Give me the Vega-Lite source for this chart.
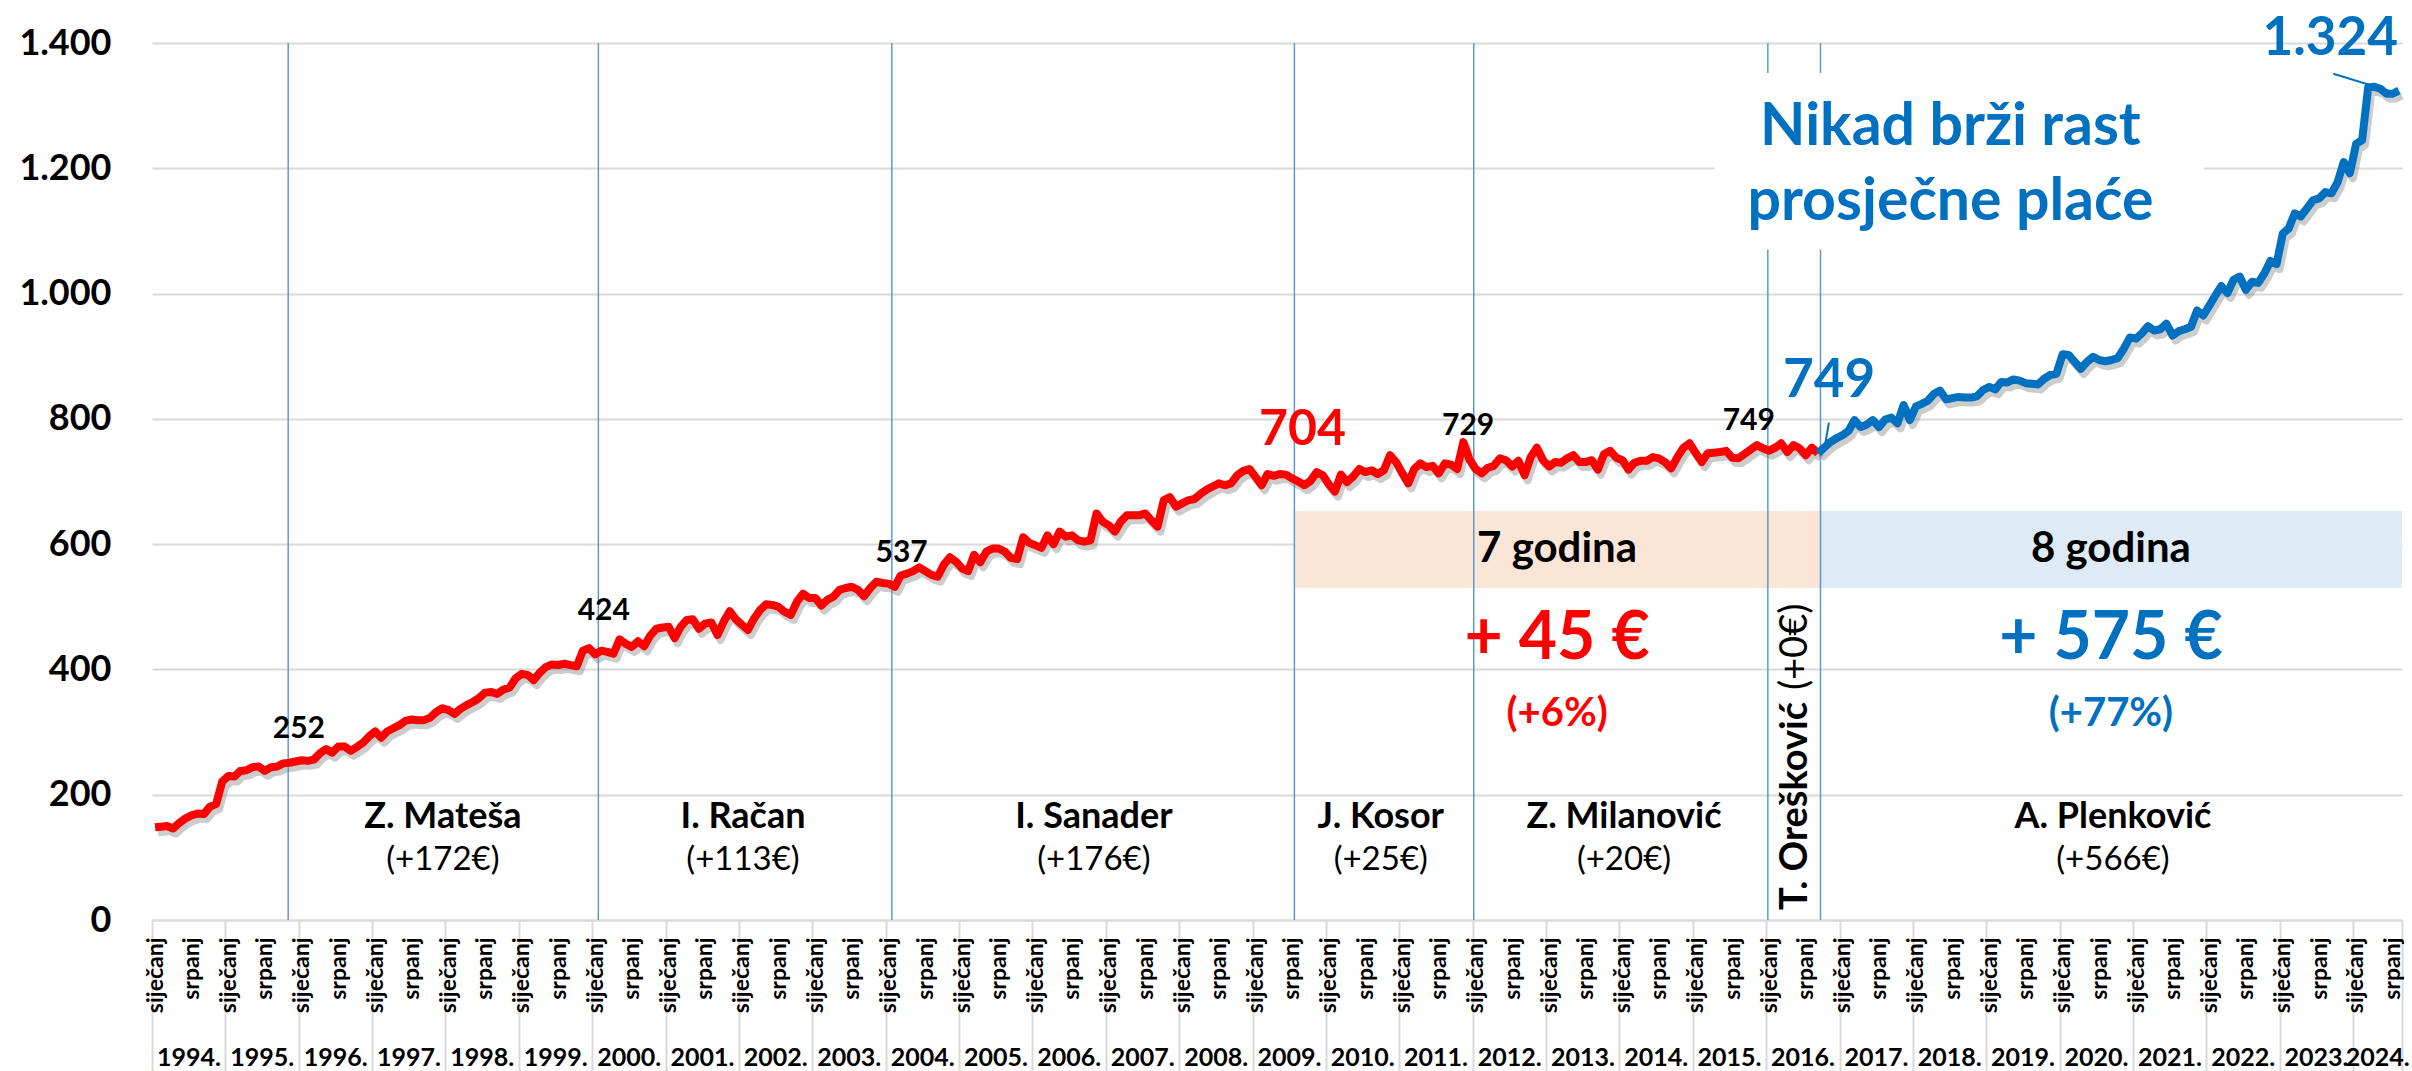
{
"$schema":"https://vega.github.io/schema/vega-lite/v6.json",
"width":2250,"height":877,
"autosize":{"type":"none"},
"padding":{"left":152,"top":43,"right":10,"bottom":151},
"background":"white",
"config":{"view":{"stroke":null},"font":"Lato","text":{"font":"Lato"},"axis":{"labelFont":"Lato"}},
"datasets":{
"crvena":[
{"d":"1994-01","v":148},{"d":"1994-02","v":149},{"d":"1994-03","v":150},{"d":"1994-04","v":146},{"d":"1994-05","v":155},{"d":"1994-06","v":162},{"d":"1994-07","v":167},{"d":"1994-08","v":170},{"d":"1994-09","v":169},{"d":"1994-10","v":181},{"d":"1994-11","v":185},{"d":"1994-12","v":221},
{"d":"1995-01","v":230},{"d":"1995-02","v":229},{"d":"1995-03","v":238},{"d":"1995-04","v":239},{"d":"1995-05","v":244},{"d":"1995-06","v":245},{"d":"1995-07","v":238},{"d":"1995-08","v":244},{"d":"1995-09","v":245},{"d":"1995-10","v":250},{"d":"1995-11","v":251},{"d":"1995-12","v":253},
{"d":"1996-01","v":255},{"d":"1996-02","v":254},{"d":"1996-03","v":256},{"d":"1996-04","v":266},{"d":"1996-05","v":273},{"d":"1996-06","v":267},{"d":"1996-07","v":277},{"d":"1996-08","v":277},{"d":"1996-09","v":270},{"d":"1996-10","v":276},{"d":"1996-11","v":283},{"d":"1996-12","v":293},
{"d":"1997-01","v":301},{"d":"1997-02","v":291},{"d":"1997-03","v":301},{"d":"1997-04","v":306},{"d":"1997-05","v":311},{"d":"1997-06","v":318},{"d":"1997-07","v":320},{"d":"1997-08","v":319},{"d":"1997-09","v":319},{"d":"1997-10","v":323},{"d":"1997-11","v":332},{"d":"1997-12","v":338},
{"d":"1998-01","v":335},{"d":"1998-02","v":329},{"d":"1998-03","v":337},{"d":"1998-04","v":343},{"d":"1998-05","v":348},{"d":"1998-06","v":354},{"d":"1998-07","v":363},{"d":"1998-08","v":364},{"d":"1998-09","v":361},{"d":"1998-10","v":368},{"d":"1998-11","v":371},{"d":"1998-12","v":386},
{"d":"1999-01","v":393},{"d":"1999-02","v":391},{"d":"1999-03","v":383},{"d":"1999-04","v":395},{"d":"1999-05","v":404},{"d":"1999-06","v":408},{"d":"1999-07","v":407},{"d":"1999-08","v":409},{"d":"1999-09","v":407},{"d":"1999-10","v":405},{"d":"1999-11","v":430},{"d":"1999-12","v":434},
{"d":"2000-01","v":424},{"d":"2000-02","v":430},{"d":"2000-03","v":428},{"d":"2000-04","v":425},{"d":"2000-05","v":448},{"d":"2000-06","v":441},{"d":"2000-07","v":436},{"d":"2000-08","v":445},{"d":"2000-09","v":437},{"d":"2000-10","v":454},{"d":"2000-11","v":465},{"d":"2000-12","v":467},
{"d":"2001-01","v":468},{"d":"2001-02","v":450},{"d":"2001-03","v":468},{"d":"2001-04","v":479},{"d":"2001-05","v":480},{"d":"2001-06","v":465},{"d":"2001-07","v":473},{"d":"2001-08","v":475},{"d":"2001-09","v":455},{"d":"2001-10","v":476},{"d":"2001-11","v":493},{"d":"2001-12","v":480},
{"d":"2002-01","v":471},{"d":"2002-02","v":463},{"d":"2002-03","v":481},{"d":"2002-04","v":495},{"d":"2002-05","v":504},{"d":"2002-06","v":503},{"d":"2002-07","v":500},{"d":"2002-08","v":492},{"d":"2002-09","v":487},{"d":"2002-10","v":508},{"d":"2002-11","v":521},{"d":"2002-12","v":514},
{"d":"2003-01","v":514},{"d":"2003-02","v":502},{"d":"2003-03","v":511},{"d":"2003-04","v":516},{"d":"2003-05","v":527},{"d":"2003-06","v":530},{"d":"2003-07","v":532},{"d":"2003-08","v":527},{"d":"2003-09","v":517},{"d":"2003-10","v":530},{"d":"2003-11","v":540},{"d":"2003-12","v":538},
{"d":"2004-01","v":537},{"d":"2004-02","v":532},{"d":"2004-03","v":550},{"d":"2004-04","v":553},{"d":"2004-05","v":557},{"d":"2004-06","v":563},{"d":"2004-07","v":557},{"d":"2004-08","v":551},{"d":"2004-09","v":548},{"d":"2004-10","v":567},{"d":"2004-11","v":579},{"d":"2004-12","v":572},
{"d":"2005-01","v":561},{"d":"2005-02","v":557},{"d":"2005-03","v":583},{"d":"2005-04","v":571},{"d":"2005-05","v":588},{"d":"2005-06","v":593},{"d":"2005-07","v":593},{"d":"2005-08","v":588},{"d":"2005-09","v":578},{"d":"2005-10","v":576},{"d":"2005-11","v":611},{"d":"2005-12","v":602},
{"d":"2006-01","v":598},{"d":"2006-02","v":594},{"d":"2006-03","v":614},{"d":"2006-04","v":600},{"d":"2006-05","v":620},{"d":"2006-06","v":612},{"d":"2006-07","v":614},{"d":"2006-08","v":606},{"d":"2006-09","v":604},{"d":"2006-10","v":606},{"d":"2006-11","v":649},{"d":"2006-12","v":636},
{"d":"2007-01","v":630},{"d":"2007-02","v":620},{"d":"2007-03","v":636},{"d":"2007-04","v":646},{"d":"2007-05","v":646},{"d":"2007-06","v":646},{"d":"2007-07","v":649},{"d":"2007-08","v":638},{"d":"2007-09","v":628},{"d":"2007-10","v":670},{"d":"2007-11","v":675},{"d":"2007-12","v":660},
{"d":"2008-01","v":665},{"d":"2008-02","v":670},{"d":"2008-03","v":672},{"d":"2008-04","v":680},{"d":"2008-05","v":687},{"d":"2008-06","v":692},{"d":"2008-07","v":697},{"d":"2008-08","v":694},{"d":"2008-09","v":697},{"d":"2008-10","v":710},{"d":"2008-11","v":717},{"d":"2008-12","v":720},
{"d":"2009-01","v":707},{"d":"2009-02","v":694},{"d":"2009-03","v":712},{"d":"2009-04","v":709},{"d":"2009-05","v":712},{"d":"2009-06","v":711},{"d":"2009-07","v":705},{"d":"2009-08","v":700},{"d":"2009-09","v":694},{"d":"2009-10","v":701},{"d":"2009-11","v":715},{"d":"2009-12","v":710},
{"d":"2010-01","v":695},{"d":"2010-02","v":684},{"d":"2010-03","v":711},{"d":"2010-04","v":699},{"d":"2010-05","v":708},{"d":"2010-06","v":720},{"d":"2010-07","v":715},{"d":"2010-08","v":718},{"d":"2010-09","v":712},{"d":"2010-10","v":718},{"d":"2010-11","v":742},{"d":"2010-12","v":731},
{"d":"2011-01","v":713},{"d":"2011-02","v":697},{"d":"2011-03","v":720},{"d":"2011-04","v":729},{"d":"2011-05","v":723},{"d":"2011-06","v":725},{"d":"2011-07","v":713},{"d":"2011-08","v":729},{"d":"2011-09","v":727},{"d":"2011-10","v":720},{"d":"2011-11","v":763},{"d":"2011-12","v":735},
{"d":"2012-01","v":720},{"d":"2012-02","v":713},{"d":"2012-03","v":722},{"d":"2012-04","v":725},{"d":"2012-05","v":737},{"d":"2012-06","v":734},{"d":"2012-07","v":724},{"d":"2012-08","v":733},{"d":"2012-09","v":710},{"d":"2012-10","v":739},{"d":"2012-11","v":754},{"d":"2012-12","v":734},
{"d":"2013-01","v":724},{"d":"2013-02","v":731},{"d":"2013-03","v":730},{"d":"2013-04","v":737},{"d":"2013-05","v":742},{"d":"2013-06","v":731},{"d":"2013-07","v":731},{"d":"2013-08","v":734},{"d":"2013-09","v":719},{"d":"2013-10","v":744},{"d":"2013-11","v":749},{"d":"2013-12","v":738},
{"d":"2014-01","v":734},{"d":"2014-02","v":719},{"d":"2014-03","v":730},{"d":"2014-04","v":733},{"d":"2014-05","v":733},{"d":"2014-06","v":739},{"d":"2014-07","v":737},{"d":"2014-08","v":731},{"d":"2014-09","v":721},{"d":"2014-10","v":739},{"d":"2014-11","v":754},{"d":"2014-12","v":761},
{"d":"2015-01","v":745},{"d":"2015-02","v":731},{"d":"2015-03","v":745},{"d":"2015-04","v":746},{"d":"2015-05","v":747},{"d":"2015-06","v":749},{"d":"2015-07","v":738},{"d":"2015-08","v":737},{"d":"2015-09","v":744},{"d":"2015-10","v":751},{"d":"2015-11","v":758},{"d":"2015-12","v":753},
{"d":"2016-01","v":749},{"d":"2016-02","v":754},{"d":"2016-03","v":761},{"d":"2016-04","v":747},{"d":"2016-05","v":758},{"d":"2016-06","v":753},{"d":"2016-07","v":742},{"d":"2016-08","v":754},{"d":"2016-09","v":745}
],
"plava":[
{"d":"2016-09","v":745},{"d":"2016-10","v":754},{"d":"2016-11","v":763},{"d":"2016-12","v":769},
{"d":"2017-01","v":774},{"d":"2017-02","v":781},{"d":"2017-03","v":798},{"d":"2017-04","v":787},{"d":"2017-05","v":791},{"d":"2017-06","v":798},{"d":"2017-07","v":787},{"d":"2017-08","v":799},{"d":"2017-09","v":802},{"d":"2017-10","v":793},{"d":"2017-11","v":822},{"d":"2017-12","v":798},
{"d":"2018-01","v":820},{"d":"2018-02","v":824},{"d":"2018-03","v":829},{"d":"2018-04","v":840},{"d":"2018-05","v":845},{"d":"2018-06","v":831},{"d":"2018-07","v":833},{"d":"2018-08","v":835},{"d":"2018-09","v":834},{"d":"2018-10","v":834},{"d":"2018-11","v":836},{"d":"2018-12","v":846},
{"d":"2019-01","v":851},{"d":"2019-02","v":847},{"d":"2019-03","v":859},{"d":"2019-04","v":858},{"d":"2019-05","v":863},{"d":"2019-06","v":861},{"d":"2019-07","v":857},{"d":"2019-08","v":856},{"d":"2019-09","v":855},{"d":"2019-10","v":864},{"d":"2019-11","v":870},{"d":"2019-12","v":872},
{"d":"2020-01","v":903},{"d":"2020-02","v":902},{"d":"2020-03","v":891},{"d":"2020-04","v":880},{"d":"2020-05","v":891},{"d":"2020-06","v":899},{"d":"2020-07","v":894},{"d":"2020-08","v":892},{"d":"2020-09","v":894},{"d":"2020-10","v":897},{"d":"2020-11","v":912},{"d":"2020-12","v":930},
{"d":"2021-01","v":928},{"d":"2021-02","v":937},{"d":"2021-03","v":948},{"d":"2021-04","v":941},{"d":"2021-05","v":943},{"d":"2021-06","v":952},{"d":"2021-07","v":933},{"d":"2021-08","v":940},{"d":"2021-09","v":943},{"d":"2021-10","v":947},{"d":"2021-11","v":973},{"d":"2021-12","v":965},
{"d":"2022-01","v":981},{"d":"2022-02","v":997},{"d":"2022-03","v":1012},{"d":"2022-04","v":1001},{"d":"2022-05","v":1022},{"d":"2022-06","v":1027},{"d":"2022-07","v":1006},{"d":"2022-08","v":1019},{"d":"2022-09","v":1017},{"d":"2022-10","v":1032},{"d":"2022-11","v":1052},{"d":"2022-12","v":1047},
{"d":"2023-01","v":1096},{"d":"2023-02","v":1104},{"d":"2023-03","v":1128},{"d":"2023-04","v":1123},{"d":"2023-05","v":1136},{"d":"2023-06","v":1149},{"d":"2023-07","v":1152},{"d":"2023-08","v":1162},{"d":"2023-09","v":1160},{"d":"2023-10","v":1178},{"d":"2023-11","v":1210},{"d":"2023-12","v":1192},
{"d":"2024-01","v":1239},{"d":"2024-02","v":1245},{"d":"2024-03","v":1329},{"d":"2024-04","v":1330},{"d":"2024-05","v":1327},{"d":"2024-06","v":1319},{"d":"2024-07","v":1319},{"d":"2024-08","v":1324}
],
"vlade":[
{"d":"1995-11-10","ime":"Z. Mateša","razlika":"(+172€)","sredina":"1997-12-19"},
{"d":"2000-02-01","ime":"I. Račan","razlika":"(+113€)","sredina":"2002-01-21"},
{"d":"2004-02-01","ime":"I. Sanader","razlika":"(+176€)","sredina":"2006-11-03"},
{"d":"2009-07-28","ime":"J. Kosor","razlika":"(+25€)","sredina":"2010-10-01"},
{"d":"2012-01-07","ime":"Z. Milanović","razlika":"(+20€)","sredina":"2014-01-24"},
{"d":"2016-01-10","ime":"T. Orešković","razlika":"(+0€)","sredina":"2016-05-28"},
{"d":"2016-09-28","ime":"A. Plenković","razlika":"(+566€)","sredina":"2020-09-23"}
],
"razdoblja":[
{"od":"2009-07-28","do":"2016-09-28","lo":530,"hi":653,"k":"7 godina","sredina":"2013-02-25","iznos":"+ 45 €","posto":"(+6%)"},
{"od":"2016-09-28","do":"2024-09-01","lo":530,"hi":653,"k":"8 godina","sredina":"2020-09-13","iznos":"+ 575 €","posto":"(+77%)"}
],
"oznake":[
{"d":"1996-01-02","v":305,"t":"252"},
{"d":"2000-02-28","v":493,"t":"424"},
{"d":"2004-03-21","v":586,"t":"537"},
{"d":"2011-12-10","v":788,"t":"729"},
{"d":"2015-10-07","v":796,"t":"749"}
],
"plaveOznake":[
{"d":"2016-11-10","v":860,"t":"749"},
{"d":"2023-09-10","v":1407,"t":"1.324"}
],
"spojnice":[
{"a":"2023-09-25","va":1351,"b":"2024-07-16","vb":1322},
{"a":"2016-10-19","va":755,"b":"2016-11-09","vb":794}
],
"naslov":[
{"d":"2018-07-07","v":1237,"t":"Nikad brži rast"},
{"d":"2018-07-07","v":1117,"t":"prosječne plaće"}
],
"okvir":[{"a":"2015-04-19","b":"2021-12-19","lo":1070,"hi":1352}]
},
"resolve":{"axis":{"x":"independent","y":"independent"}},
"layer":[
{"data":{"name":"razdoblja"},
 "mark":{"type":"rect"},
 "encoding":{
  "x":{"field":"od","type":"temporal","scale":{"type":"utc","domain":[{"year":1994,"month":1,"date":1,"utc":true},{"year":2024,"month":9,"date":1,"utc":true}]},
   "axis":{"orient":"bottom","title":null,"labels":false,"grid":false,"ticks":true,"tickSize":151,"tickColor":"#d9d9d9","tickWidth":2,"domain":true,"domainColor":"#d9d9d9","domainWidth":2,
    "values":[{"year":1994,"utc":true},{"year":1995,"utc":true},{"year":1996,"utc":true},{"year":1997,"utc":true},{"year":1998,"utc":true},{"year":1999,"utc":true},{"year":2000,"utc":true},{"year":2001,"utc":true},{"year":2002,"utc":true},{"year":2003,"utc":true},{"year":2004,"utc":true},{"year":2005,"utc":true},{"year":2006,"utc":true},{"year":2007,"utc":true},{"year":2008,"utc":true},{"year":2009,"utc":true},{"year":2010,"utc":true},{"year":2011,"utc":true},{"year":2012,"utc":true},{"year":2013,"utc":true},{"year":2014,"utc":true},{"year":2015,"utc":true},{"year":2016,"utc":true},{"year":2017,"utc":true},{"year":2018,"utc":true},{"year":2019,"utc":true},{"year":2020,"utc":true},{"year":2021,"utc":true},{"year":2022,"utc":true},{"year":2023,"utc":true},{"year":2024,"utc":true},{"year":2024,"month":9,"date":1,"utc":true}]}},
  "x2":{"field":"do"},
  "y":{"field":"lo","type":"quantitative","scale":{"domain":[0,1400],"nice":false},"axis":null},
  "y2":{"field":"hi"},
  "color":{"field":"k","type":"nominal","scale":{"domain":["7 godina","8 godina"],"range":["#FBE5D6","#DEEBF7"]},"legend":null}
 }},
{"data":{"name":"vlade"},
 "mark":{"type":"rule","color":"#5B9BD5","strokeWidth":1.5},
 "encoding":{
  "x":{"field":"d","type":"temporal","scale":{"type":"utc","domain":[{"year":1994,"month":1,"date":1,"utc":true},{"year":2024,"month":9,"date":1,"utc":true}]},
   "axis":{"orient":"bottom","title":null,"ticks":false,"domain":false,"grid":false,"labelAngle":0,"labelFontSize":25,"labelFontWeight":"bold","labelColor":"black","labelBaseline":"alphabetic","labelPadding":145,"labelOverlap":false,"labelFlush":false,"labelBound":false,
    "labelExpr":"utcyear(datum.value) + '.'",
    "values":[{"year":1994,"month":7,"utc":true},{"year":1995,"month":7,"utc":true},{"year":1996,"month":7,"utc":true},{"year":1997,"month":7,"utc":true},{"year":1998,"month":7,"utc":true},{"year":1999,"month":7,"utc":true},{"year":2000,"month":7,"utc":true},{"year":2001,"month":7,"utc":true},{"year":2002,"month":7,"utc":true},{"year":2003,"month":7,"utc":true},{"year":2004,"month":7,"utc":true},{"year":2005,"month":7,"utc":true},{"year":2006,"month":7,"utc":true},{"year":2007,"month":7,"utc":true},{"year":2008,"month":7,"utc":true},{"year":2009,"month":7,"utc":true},{"year":2010,"month":7,"utc":true},{"year":2011,"month":7,"utc":true},{"year":2012,"month":7,"utc":true},{"year":2013,"month":7,"utc":true},{"year":2014,"month":7,"utc":true},{"year":2015,"month":7,"utc":true},{"year":2016,"month":7,"utc":true},{"year":2017,"month":7,"utc":true},{"year":2018,"month":7,"utc":true},{"year":2019,"month":7,"utc":true},{"year":2020,"month":7,"utc":true},{"year":2021,"month":7,"utc":true},{"year":2022,"month":7,"utc":true},{"year":2023,"month":7,"utc":true},{"year":2024,"month":5,"utc":true}]}}
 }},
{"data":{"name":"okvir"},
 "mark":{"type":"rect","color":"white"},
 "encoding":{
  "x":{"field":"a","type":"temporal","scale":{"type":"utc","domain":[{"year":1994,"month":1,"date":1,"utc":true},{"year":2024,"month":9,"date":1,"utc":true}]},"axis":null},
  "x2":{"field":"b"},
  "y":{"field":"lo","type":"quantitative","scale":{"domain":[0,1400],"nice":false},"axis":null},
  "y2":{"field":"hi"}
 }},
{"data":{"name":"crvena"},
 "mark":{"type":"line","color":"#7f7f7f","opacity":0.4,"strokeWidth":8,"xOffset":3,"yOffset":5,"strokeJoin":"round"},
 "encoding":{
  "x":{"field":"d","type":"temporal","timeUnit":"utcyearmonth","bandPosition":0.5,"scale":{"type":"utc","domain":[{"year":1994,"month":1,"date":1,"utc":true},{"year":2024,"month":9,"date":1,"utc":true}]},"axis":null},
  "y":{"field":"v","type":"quantitative","scale":{"domain":[0,1400],"nice":false},"axis":null}
 }},
{"data":{"name":"plava"},
 "mark":{"type":"line","color":"#7f7f7f","opacity":0.4,"strokeWidth":8,"xOffset":3,"yOffset":5,"strokeJoin":"round"},
 "encoding":{
  "x":{"field":"d","type":"temporal","timeUnit":"utcyearmonth","bandPosition":0.5,"scale":{"type":"utc","domain":[{"year":1994,"month":1,"date":1,"utc":true},{"year":2024,"month":9,"date":1,"utc":true}]},"axis":null},
  "y":{"field":"v","type":"quantitative","scale":{"domain":[0,1400],"nice":false},"axis":null}
 }},
{"data":{"name":"crvena"},
 "mark":{"type":"line","color":"#FF0000","strokeWidth":8,"strokeJoin":"round"},
 "encoding":{
  "x":{"field":"d","type":"temporal","timeUnit":"utcyearmonth","bandPosition":0.5,"scale":{"type":"utc","domain":[{"year":1994,"month":1,"date":1,"utc":true},{"year":2024,"month":9,"date":1,"utc":true}]},
   "axis":{"orient":"bottom","title":null,"ticks":false,"domain":false,"grid":false,"labelAngle":270,"labelFontSize":23,"labelFontWeight":"bold","labelColor":"black","labelPadding":17,"labelOffset":3,"labelOverlap":false,"labelFlush":false,"labelBound":false,
    "tickCount":{"interval":"month","step":6},
    "labelExpr":"utcmonth(datum.value) == 0 ? 'siječanj' : 'srpanj'"}},
  "y":{"field":"v","type":"quantitative","scale":{"domain":[0,1400],"nice":false},
   "axis":{"orient":"left","title":null,"values":[0,200,400,600,800,1000,1200,1400],"grid":true,"gridColor":"#d9d9d9","gridWidth":2,"domain":false,"ticks":false,"labelFontSize":36,"labelFontWeight":"bold","labelColor":"black","labelPadding":41,
    "labelExpr":"replace(format(datum.value, ','), ',', '.')"}}
 }},
{"data":{"name":"plava"},
 "mark":{"type":"line","color":"#0070C0","strokeWidth":8,"strokeJoin":"round"},
 "encoding":{
  "x":{"field":"d","type":"temporal","timeUnit":"utcyearmonth","bandPosition":0.5,"scale":{"type":"utc","domain":[{"year":1994,"month":1,"date":1,"utc":true},{"year":2024,"month":9,"date":1,"utc":true}]},"axis":null},
  "y":{"field":"v","type":"quantitative","scale":{"domain":[0,1400],"nice":false},"axis":null}
 }},
{"data":{"name":"spojnice"},
 "mark":{"type":"rule","color":"#0070C0","strokeWidth":2},
 "encoding":{
  "x":{"field":"a","type":"temporal","scale":{"type":"utc","domain":[{"year":1994,"month":1,"date":1,"utc":true},{"year":2024,"month":9,"date":1,"utc":true}]},"axis":null},
  "x2":{"field":"b"},
  "y":{"field":"va","type":"quantitative","scale":{"domain":[0,1400],"nice":false},"axis":null},
  "y2":{"field":"vb"}
 }},
{"data":{"name":"oznake"},
 "mark":{"type":"text","font":"Lato","fontSize":30,"fontWeight":"bold","color":"black","align":"center","baseline":"middle"},
 "encoding":{
  "x":{"field":"d","type":"temporal","scale":{"type":"utc","domain":[{"year":1994,"month":1,"date":1,"utc":true},{"year":2024,"month":9,"date":1,"utc":true}]},"axis":null},
  "y":{"field":"v","type":"quantitative","scale":{"domain":[0,1400],"nice":false},"axis":null},
  "text":{"field":"t"}
 }},
{"data":{"values":[{"d":"2009-09-07","v":782,"t":"704"}]},
 "mark":{"type":"text","font":"Lato","fontSize":50,"fontWeight":"bold","color":"#FF0000","align":"center","baseline":"middle"},
 "encoding":{
  "x":{"field":"d","type":"temporal","scale":{"type":"utc","domain":[{"year":1994,"month":1,"date":1,"utc":true},{"year":2024,"month":9,"date":1,"utc":true}]},"axis":null},
  "y":{"field":"v","type":"quantitative","scale":{"domain":[0,1400],"nice":false},"axis":null},
  "text":{"field":"t"}
 }},
{"data":{"name":"plaveOznake"},
 "mark":{"type":"text","font":"Lato","fontSize":53,"fontWeight":"bold","color":"#0070C0","align":"center","baseline":"middle"},
 "encoding":{
  "x":{"field":"d","type":"temporal","scale":{"type":"utc","domain":[{"year":1994,"month":1,"date":1,"utc":true},{"year":2024,"month":9,"date":1,"utc":true}]},"axis":null},
  "y":{"field":"v","type":"quantitative","scale":{"domain":[0,1400],"nice":false},"axis":null},
  "text":{"field":"t"}
 }},
{"data":{"name":"naslov"},
 "mark":{"type":"text","font":"Lato","fontSize":59,"fontWeight":"bold","color":"#0070C0","align":"center","baseline":"alphabetic"},
 "encoding":{
  "x":{"field":"d","type":"temporal","scale":{"type":"utc","domain":[{"year":1994,"month":1,"date":1,"utc":true},{"year":2024,"month":9,"date":1,"utc":true}]},"axis":null},
  "y":{"field":"v","type":"quantitative","scale":{"domain":[0,1400],"nice":false},"axis":null},
  "text":{"field":"t"}
 }},
{"data":{"name":"vlade"},
 "transform":[{"filter":"datum.ime != 'T. Orešković'"}],
 "mark":{"type":"text","font":"Lato","fontSize":36,"fontWeight":"bold","color":"black","align":"center","baseline":"alphabetic"},
 "encoding":{
  "x":{"field":"sredina","type":"temporal","scale":{"type":"utc","domain":[{"year":1994,"month":1,"date":1,"utc":true},{"year":2024,"month":9,"date":1,"utc":true}]},"axis":null},
  "y":{"datum":147,"type":"quantitative","scale":{"domain":[0,1400],"nice":false},"axis":null},
  "text":{"field":"ime"}
 }},
{"data":{"name":"vlade"},
 "transform":[{"filter":"datum.ime != 'T. Orešković'"}],
 "mark":{"type":"text","font":"Lato","fontSize":33,"fontWeight":"normal","color":"black","align":"center","baseline":"alphabetic"},
 "encoding":{
  "x":{"field":"sredina","type":"temporal","scale":{"type":"utc","domain":[{"year":1994,"month":1,"date":1,"utc":true},{"year":2024,"month":9,"date":1,"utc":true}]},"axis":null},
  "y":{"datum":80,"type":"quantitative","scale":{"domain":[0,1400],"nice":false},"axis":null},
  "text":{"field":"razlika"}
 }},
{"data":{"name":"vlade"},
 "transform":[{"filter":"datum.ime == 'T. Orešković'"}],
 "mark":{"type":"text","font":"Lato","fontSize":38,"fontWeight":"bold","color":"black","align":"center","baseline":"middle","angle":270},
 "encoding":{
  "x":{"field":"sredina","type":"temporal","scale":{"type":"utc","domain":[{"year":1994,"month":1,"date":1,"utc":true},{"year":2024,"month":9,"date":1,"utc":true}]},"axis":null},
  "y":{"datum":182,"type":"quantitative","scale":{"domain":[0,1400],"nice":false},"axis":null},
  "text":{"field":"ime"}
 }},
{"data":{"name":"vlade"},
 "transform":[{"filter":"datum.ime == 'T. Orešković'"}],
 "mark":{"type":"text","font":"Lato","fontSize":38,"fontWeight":"normal","color":"black","align":"center","baseline":"middle","angle":270},
 "encoding":{
  "x":{"field":"sredina","type":"temporal","scale":{"type":"utc","domain":[{"year":1994,"month":1,"date":1,"utc":true},{"year":2024,"month":9,"date":1,"utc":true}]},"axis":null},
  "y":{"datum":436,"type":"quantitative","scale":{"domain":[0,1400],"nice":false},"axis":null},
  "text":{"field":"razlika"}
 }},
{"data":{"name":"razdoblja"},
 "mark":{"type":"text","font":"Lato","fontSize":42,"fontWeight":"bold","color":"black","align":"center","baseline":"middle"},
 "encoding":{
  "x":{"field":"sredina","type":"temporal","scale":{"type":"utc","domain":[{"year":1994,"month":1,"date":1,"utc":true},{"year":2024,"month":9,"date":1,"utc":true}]},"axis":null},
  "y":{"datum":592,"type":"quantitative","scale":{"domain":[0,1400],"nice":false},"axis":null},
  "text":{"field":"k"}
 }},
{"data":{"name":"razdoblja"},
 "transform":[{"filter":"datum.k == '7 godina'"}],
 "layer":[
  {"mark":{"type":"text","font":"Lato","fontSize":66,"fontWeight":"bold","color":"#FF0000","align":"center","baseline":"middle"},
   "encoding":{
    "x":{"field":"sredina","type":"temporal","scale":{"type":"utc","domain":[{"year":1994,"month":1,"date":1,"utc":true},{"year":2024,"month":9,"date":1,"utc":true}]},"axis":null},
    "y":{"datum":449,"type":"quantitative","scale":{"domain":[0,1400],"nice":false},"axis":null},
    "text":{"field":"iznos"}}},
  {"mark":{"type":"text","font":"Lato","fontSize":40,"fontWeight":"bold","color":"#FF0000","align":"center","baseline":"middle"},
   "encoding":{
    "x":{"field":"sredina","type":"temporal","scale":{"type":"utc","domain":[{"year":1994,"month":1,"date":1,"utc":true},{"year":2024,"month":9,"date":1,"utc":true}]},"axis":null},
    "y":{"datum":329,"type":"quantitative","scale":{"domain":[0,1400],"nice":false},"axis":null},
    "text":{"field":"posto"}}}
 ]},
{"data":{"name":"razdoblja"},
 "transform":[{"filter":"datum.k == '8 godina'"}],
 "layer":[
  {"mark":{"type":"text","font":"Lato","fontSize":66,"fontWeight":"bold","color":"#0070C0","align":"center","baseline":"middle"},
   "encoding":{
    "x":{"field":"sredina","type":"temporal","scale":{"type":"utc","domain":[{"year":1994,"month":1,"date":1,"utc":true},{"year":2024,"month":9,"date":1,"utc":true}]},"axis":null},
    "y":{"datum":449,"type":"quantitative","scale":{"domain":[0,1400],"nice":false},"axis":null},
    "text":{"field":"iznos"}}},
  {"mark":{"type":"text","font":"Lato","fontSize":40,"fontWeight":"bold","color":"#0070C0","align":"center","baseline":"middle"},
   "encoding":{
    "x":{"field":"sredina","type":"temporal","scale":{"type":"utc","domain":[{"year":1994,"month":1,"date":1,"utc":true},{"year":2024,"month":9,"date":1,"utc":true}]},"axis":null},
    "y":{"datum":329,"type":"quantitative","scale":{"domain":[0,1400],"nice":false},"axis":null},
    "text":{"field":"posto"}}}
 ]}
]
}
